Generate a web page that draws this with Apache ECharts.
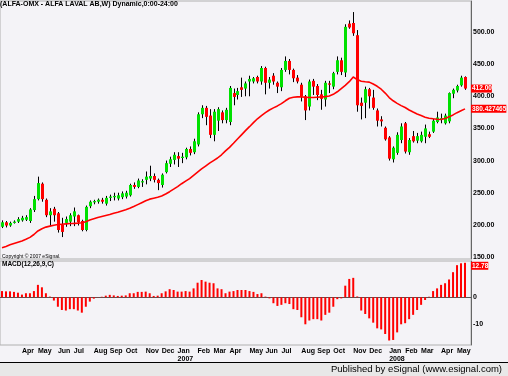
<!DOCTYPE html>
<html><head><meta charset="utf-8">
<script src="https://cdn.jsdelivr.net/npm/echarts@6/dist/echarts.min.js"></script>
<style>html,body{margin:0;padding:0;background:#f4f3f7}#c{width:508px;height:376px}</style>
</head><body><div id="c"></div>
<script>
// weekly bars (Mondays) starting 2006-02-27; one empty slot at the end
const firstWeek = '2006-02-27';
const weekCount = 118;
const monthNames = ['Jan','Feb','Mar','Apr','May','Jun','Jul','Aug','Sep','Oct','Nov','Dec'];
const priceTicks = [150,200,250,300,350,400,450,500];
const macdTicks = [0,-10];

const opens = [197,204,199,203,205,207,208,206,223,240,
264,239,215,225,218,200,203,205,213,215,
206,192,229,235,236,239,233,242,243,241,
243,244,246,262,259,266,270,272,276,270,
262,282,295,301,307,304,305,318,313,325,
372,382,370,340,362,375,363,360,405,402,
414,412,423,423,430,423,444,421,432,421,
414,441,455,441,429,418,400,384,424,416,
403,395,420,415,438,456,437,513,514,495,
390,390,411,398,378,364,351,336,302,312,
332,358,313,338,331,330,337,341,345,360,
364,358,361,404,409,417,430];
const closes = [204,199,203,205,209,211,212,224,240,265,
240,215,221,215,192,189,209,215,221,204,
192,228,236,237,239,236,242,244,245,246,
249,250,262,259,269,268,275,276,270,265,
278,296,302,309,303,306,318,312,330,372,
382,368,340,376,380,363,379,413,399,408,
410,420,427,428,423,444,421,426,423,415,
441,455,441,428,423,400,378,423,415,402,
396,421,418,436,456,438,508,507,498,386,
385,411,400,382,362,361,333,303,320,340,
353,314,332,330,338,340,350,337,362,367,
366,370,405,410,416,429,412];
const highs = [207,206,205,207,212,214,215,226,245,275,
266,241,226,228,220,211,213,218,227,216,
208,230,238,239,241,242,245,247,250,250,
252,253,264,266,272,271,283,292,280,272,
280,300,306,313,313,312,320,322,334,375,
386,385,380,380,383,378,382,416,412,413,
429,423,432,430,432,447,446,430,436,423,
444,462,458,443,433,421,402,426,427,419,
410,424,424,438,462,460,512,518,531,503,
398,415,413,410,381,369,353,338,322,344,
358,360,335,346,343,345,356,345,365,376,
373,373,406,412,418,432,431];
const lows = [195,196,197,202,203,205,206,203,220,238,
236,212,198,205,188,181,197,198,198,199,
190,190,226,232,233,233,230,237,238,238,
240,241,244,256,257,259,263,268,266,254,
258,280,290,294,290,296,302,308,310,322,
366,355,335,330,346,358,358,355,386,395,
399,400,400,420,420,418,403,412,418,405,
408,438,434,422,420,392,363,378,402,394,
379,384,405,411,434,433,430,505,494,376,
364,366,381,379,353,353,331,300,297,309,
327,311,309,328,327,328,327,335,343,358,
358,356,358,397,406,415,410];
const maValues = [164.5,166.5,169,171,173,175,177.5,180.5,185,190.5,
194,196.5,198,199.5,200.5,201,201.5,202,202.3,202.7,
203.3,205,207.5,209.5,211.5,213,214.5,216,218,219.5,
221.5,223.5,225.7,228.5,231.5,234.5,237.5,240,241.5,243,
245,248,251.6,255.5,259.5,264,268,272,277,282,
287,291.5,296,300,304,309,315,320.6,327,333.5,
340,346.5,352.7,359,365,370,374.5,378.7,382,385,
388.5,393,397,398.5,399,399,398.5,398,398,398.5,
399,399.5,400.5,403,407,412,417,422.7,430,426,
423.5,422.5,422,419,415.5,411,405,398,393,389,
385.5,382.5,378.7,375.5,372.5,370,367.5,365.8,365,364.3,
364,365.5,368,371,374.5,377.5,380.427465];
const macdValues = [2.3,2.2,2.2,2.0,1.7,1.0,1.5,1.5,2.3,4.6,
3.7,1.5,0.25,-1.2,-3.5,-4.7,-4.9,-4.4,-4.4,-4.9,
-5.7,-3.5,-1.6,-0.5,0.1,0.2,0.6,0.9,0.7,0.5,
0.6,0.7,1.5,1.5,2.0,2.0,2.1,1.5,0.5,0.6,
1.5,2.2,3.0,2.7,2.1,2.1,2.3,2.1,3.3,5.4,
6.4,5.8,5.4,5.2,3.3,3.0,1.5,2.1,2.3,2.7,
2.7,2.7,2.3,2.0,1.2,1.5,0.25,-0.4,-2.2,-3.2,
-2.8,-2.2,-2.5,-4.4,-4.7,-7.4,-10,-8.6,-8.1,-8.1,
-8.6,-6.5,-5.7,-3.5,-0.7,-0.4,4.3,6.8,7.2,0.3,
-4.9,-6.2,-7.8,-9.4,-11.5,-11.9,-13.6,-16,-15.8,-13,
-10,-9.6,-8.1,-6.5,-4.7,-2.8,-1.0,0.2,2.3,3.3,
4.6,5.2,6.6,9.3,11.9,12.6,12.78];

const dates = [];
(function(){
  const t0 = Date.parse(firstWeek + 'T00:00:00Z');
  for (let i = 0; i < weekCount; i++) dates.push(new Date(t0 + i*7*86400000).toISOString().slice(0,10));
})();
const monthOf = d => +d.slice(5,7);
const isMonthStart = i => i >= 4 && i < opens.length && monthOf(dates[i]) !== monthOf(dates[i-1]);

const candleData = opens.map((o,i) => [i, o, closes[i], lows[i], highs[i]]);
const last = opens.length - 1;
const FONT = "'Liberation Sans',Arial,sans-serif";
const tagLabel = {show: true, position: 'end', distance: 0, color: '#fff', backgroundColor: '#ff0000', opacity: 1,
  fontSize: 6.5, fontWeight: 'bold', fontFamily: FONT, padding: [1,0,0,1]};
const hiddenLine = {color: 'rgba(0,0,0,0)', width: 0, opacity: 1};

const chart = echarts.init(document.getElementById('c'), null, {renderer:'canvas'});
chart.setOption({
  backgroundColor: '#f4f3f7',
  animation: false,
  title: [
    {text: '(ALFA-OMX - ALFA LAVAL AB,W) Dynamic,0:00-24:00', left: 0, top: 1, padding: 0,
     textStyle: {fontSize: 7, fontWeight: 'bold', color: '#000', fontFamily: FONT}},
    {text: 'MACD(12,26,9,C)', left: 2, top: 261, padding: 0,
     textStyle: {fontSize: 6.5, fontWeight: 'bold', color: '#000', fontFamily: FONT}}
  ],
  graphic: [
    {type: 'rect', silent: true, shape: {x: 0, y: 363, width: 508, height: 13}, style: {fill: '#e8e8e8'}},
    {type: 'line', silent: true, shape: {x1: 0, y1: 362.5, x2: 508, y2: 362.5}, style: {stroke: '#000', lineWidth: 1}},
    {type: 'text', silent: true, left: 2, top: 254, style: {text: 'Copyright © 2007 eSignal.', fontSize: 5, fill: '#000', fontFamily: FONT}},
    {type: 'text', silent: true, right: 6, top: 364, style: {text: 'Published by eSignal (www.esignal.com)', fontSize: 9.5, fill: '#000', fontFamily: FONT}}
  ],
  grid: [
    {left: 0, top: 1, width: 471, height: 258, show: true, borderColor: '#b0b0b0', borderWidth: 1, backgroundColor: 'transparent'},
    {left: 0, top: 261, width: 471, height: 84, show: true, borderColor: '#b0b0b0', borderWidth: 1, backgroundColor: 'transparent'}
  ],
  xAxis: [
    {type: 'category', gridIndex: 0, data: dates, boundaryGap: true, show: false},
    {type: 'category', gridIndex: 1, data: dates, boundaryGap: true,
     axisLine: {show: true, lineStyle: {color: '#555', width: 1}}, axisTick: {show: false}, splitLine: {show: false},
     axisLabel: {interval: (i) => isMonthStart(i), showMinLabel: true, showMaxLabel: true, hideOverlap: false,
       margin: 2, fontSize: 7, fontWeight: 'bold', color: '#000', align: 'left',
       fontFamily: FONT, lineHeight: 8,
       formatter: (v) => { const m = monthOf(v); return monthNames[m-1] + (m === 1 ? '\n' + v.slice(0,4) : ''); }}}
  ],
  yAxis: [
    {type: 'value', gridIndex: 0, position: 'right', min: 146.9, max: 548.2,
     axisLine: {show: true, lineStyle: {color: '#666'}}, axisTick: {show: false}, splitLine: {show: false},
     axisLabel: {customValues: priceTicks, margin: 2, fontSize: 7, fontWeight: 'bold', color: '#000', fontFamily: FONT,
       formatter: v => v.toFixed(2)}},
    {type: 'value', gridIndex: 1, position: 'right', min: -17.67, max: 13.44,
     axisLine: {show: true, lineStyle: {color: '#666'}}, axisTick: {show: false}, splitLine: {show: false},
     axisLabel: {customValues: macdTicks, margin: 2, fontSize: 7, fontWeight: 'bold', color: '#000', fontFamily: FONT}}
  ],
  series: [
    {type: 'custom', xAxisIndex: 0, yAxisIndex: 0, data: candleData, clip: true,
     encode: {x: 0, y: [1,2,3,4]},
     renderItem: function(params, api){
       const i = api.value(0), o = api.value(1), c = api.value(2), l = api.value(3), h = api.value(4);
       const po = api.coord([i, o]), pc = api.coord([i, c]), pl = api.coord([i, l]), ph = api.coord([i, h]);
       const x = Math.round(po[0]);
       const top = Math.min(po[1], pc[1]), bh = Math.max(1, Math.abs(po[1] - pc[1]));
       return {type: 'group', children: [
         {type: 'line', shape: {x1: x + 0.5, y1: ph[1], x2: x + 0.5, y2: pl[1]}, style: {stroke: '#000', lineWidth: 1}},
         {type: 'rect', shape: {x: x - 1, y: top, width: 3, height: bh}, style: {fill: c >= o ? '#00e000' : '#ff0000'}}
       ]};
     }},
    {type: 'line', xAxisIndex: 0, yAxisIndex: 0, data: maValues, showSymbol: false, symbol: 'none', clip: false,
     lineStyle: {color: '#ff0000', width: 1.6}, z: 3,
     markLine: {symbol: 'none', silent: true, lineStyle: hiddenLine, label: tagLabel,
       data: [
         {yAxis: closes[last], label: {formatter: closes[last].toFixed(2)}},
         {yAxis: maValues[last], label: {formatter: String(maValues[last])}}
       ]}},
    {type: 'bar', xAxisIndex: 1, yAxisIndex: 1, data: macdValues, barWidth: 2, itemStyle: {color: '#ff0000'}, clip: false,
     markLine: {symbol: 'none', silent: true, lineStyle: hiddenLine, label: Object.assign({}, tagLabel, {offset: [0, 3]}),
       data: [{yAxis: macdValues[last], label: {formatter: macdValues[last].toFixed(2)}}]}}
  ]
});
</script></body></html>
